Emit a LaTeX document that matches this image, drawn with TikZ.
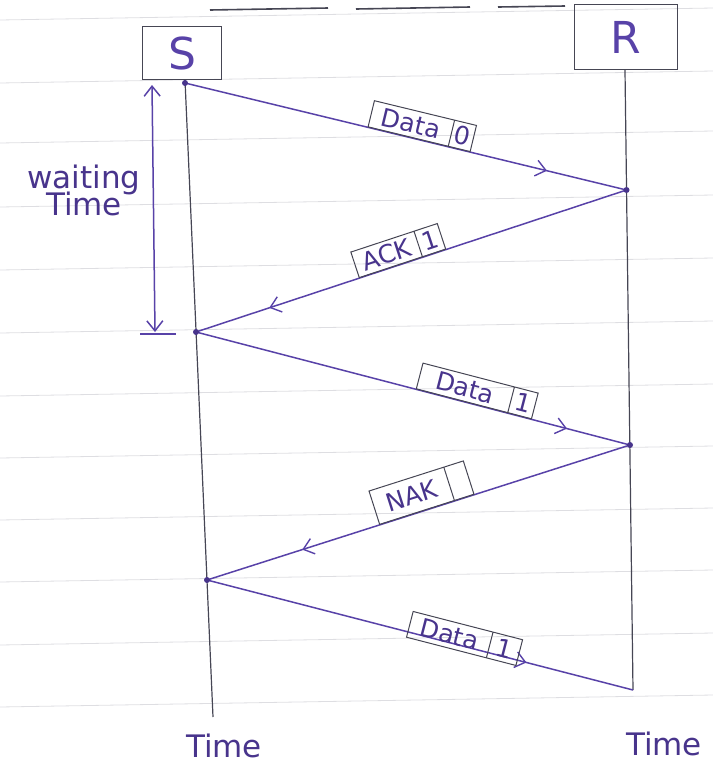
\documentclass[tikz,border=0pt]{standalone}
\usepackage{fontspec}
\setmainfont{DejaVu Sans}
\usetikzlibrary{arrows.meta,decorations.markings,shapes.multipart}
\definecolor{ink}{RGB}{88,66,168}
\definecolor{inkdark}{RGB}{72,52,140}
\definecolor{pencil}{RGB}{70,70,84}
\definecolor{paperline}{RGB}{222,222,226}
\begin{document}
\begin{tikzpicture}[x=1pt,y=-1pt,
  paper/.style={paperline, line width=0.8pt},
  hostbox/.style={draw=pencil, line width=1.3pt, text=ink, font=\fontsize{44}{46}\selectfont},
  timeline/.style={pencil, line width=1.2pt},
  msg/.style={ink, line width=1.5pt},
  underline/.style={pencil, line width=1.6pt},
  midarrow/.style={postaction={decorate,decoration={markings,
      mark=at position #1 with {\arrow{Straight Barb[length=10pt,width=16pt,line width=1.4pt]}}}}},
  lbl/.style={draw=pencil, line width=1pt, sloped, above=0pt,
      rectangle split, rectangle split horizontal, rectangle split parts=2,
      inner xsep=3pt, inner ysep=4pt, text=inkdark,
      font=\fontsize{25}{27}\selectfont},
  dot/.style={fill=inkdark},
  handtext/.style={text=inkdark, font=\fontsize{31}{33}\selectfont, align=center},
]
\useasboundingbox (0,0) rectangle (713,764);

% ruled paper lines
\foreach \y in {20,83,143,207,270,333,396,458,520,582,645,707}
  \draw[paper] (0,\y) -- (713,\y-12);

% cut-off title underlines
\coordinate (u1a) at (210,10); \coordinate (u1b) at (328,8);
\coordinate (u2a) at (356,9);  \coordinate (u2b) at (470,7);
\coordinate (u3a) at (498,7);  \coordinate (u3b) at (565,6);
\draw[underline] (u1a) -- (u1b);
\draw[underline] (u2a) -- (u2b);
\draw[underline] (u3a) -- (u3b);

% hosts
\node[hostbox, minimum width=79pt, minimum height=53pt] (S) at (182,53) {S};
\node[hostbox, minimum width=103pt, minimum height=65pt] (R) at (626,37) {R};

% timelines
\coordinate (sTop) at (185,80);
\coordinate (sBot) at (213,717);
\coordinate (rTop) at (625,70);
\coordinate (rBot) at (633,690);
\draw[timeline] (sTop) -- (sBot);
\draw[timeline] (rTop) -- (rBot);

% event points
\coordinate (s0) at (185,83);
\coordinate (r1) at (626.5,190);
\coordinate (s2) at (196,332);
\coordinate (r3) at (630,445);
\coordinate (s4) at (207,580);
\coordinate (r5) at (633,690);

% messages
\draw[msg, midarrow=0.82] (s0) -- node[lbl, pos=0.53] (L1) {\makebox[76pt]{Data}\nodepart{two}\makebox[16pt]{0}} (r1);
\draw[msg, midarrow=0.83] (r1) -- node[lbl, pos=0.52] (L2) {\makebox[60pt]{ACK}\nodepart{two}\makebox[18pt]{1}} (s2);
\draw[msg, midarrow=0.855] (s2) -- node[lbl, pos=0.64] (L3) {\makebox[88pt]{Data}\nodepart{two}\makebox[18pt]{1}} (r3);
\draw[msg, midarrow=0.775] (r3) -- node[lbl, pos=0.48] (L4) {\makebox[72pt]{NAK}\nodepart{two}\makebox[14pt]{\strut}} (s4);
\draw[msg, midarrow=0.75] (s4) -- node[lbl, pos=0.6, above=-6pt] (L5) {\makebox[76pt]{Data}\nodepart{two}\makebox[24pt]{1}} (r5);

% dots at event points
\foreach \p in {s0,r1,s2,r3,s4}
  \fill[dot] (\p) circle (3pt);

% waiting time
\coordinate (wTop) at (152,85);
\coordinate (wBot) at (155,332);
\coordinate (wL) at (140,334);
\coordinate (wR) at (176,334);
\draw[msg, {Straight Barb[length=10pt,width=16pt]}-{Straight Barb[length=10pt,width=16pt]}] (wTop) -- (wBot);
\draw[msg] (wL) -- (wR);
\node[handtext] (wait) at (84,190) {waiting\\[-6pt]Time};

% time labels
\node[handtext] (tS) at (224,746) {Time};
\node[handtext] (tR) at (664,744) {Time};
\end{tikzpicture}
\end{document}
